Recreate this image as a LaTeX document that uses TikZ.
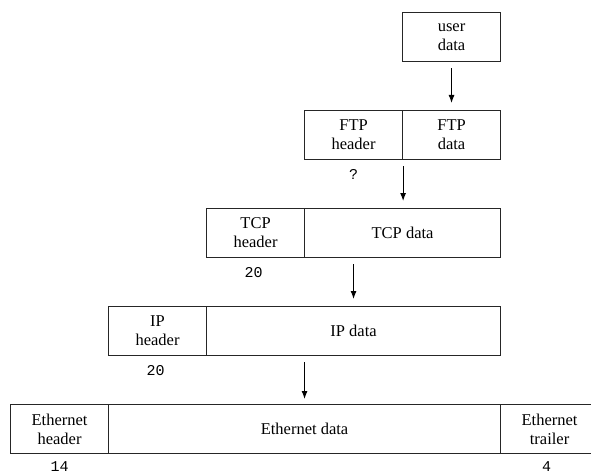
\documentclass[tikz,border=0pt]{standalone}
\usepackage{fontspec}
\setmainfont{Liberation Serif}
\newfontfamily\monofont{Liberation Mono}
\usetikzlibrary{arrows.meta,calc}
\begin{document}
\begin{tikzpicture}[x=1pt,y=-1pt,
  cell/.style={draw=black!85, line width=1.1pt, minimum height=49pt, inner sep=0pt,
    align=center, anchor=north west, font=\fontsize{16.5}{19}\selectfont},
  sizelabel/.style={inner sep=0.5pt, font=\monofont\fontsize{15}{17}\selectfont},
  flow/.style={-{Latex[length=8pt,width=6pt]}, line width=1pt}]
\useasboundingbox (0,0) rectangle (591,473);

% application layer
\node[cell, minimum width=98pt] (user) at (402,12) {user\\data};

% FTP
\node[cell, minimum width=98pt] (ftph) at (304,110) {FTP\\header};
\node[cell, minimum width=98pt] (ftpd) at (402,110) {FTP\\data};

% TCP
\node[cell, minimum width=98pt]  (tcph) at (206,208) {TCP\\header};
\node[cell, minimum width=196pt] (tcpd) at (304,208) {TCP data};

% IP
\node[cell, minimum width=98pt]  (iph) at (108,306) {IP\\header};
\node[cell, minimum width=294pt] (ipd) at (206,306) {IP data};

% Ethernet frame
\node[cell, minimum width=98pt]  (ethh) at (10,404)  {Ethernet\\header};
\node[cell, minimum width=392pt] (ethd) at (108,404) {Ethernet data};
\node[cell, minimum width=98pt]  (etht) at (500,404) {Ethernet\\trailer};

% header / trailer sizes
\node[sizelabel] (qftp) at ($(ftph.south)+(0,14)$) {?};
\node[sizelabel] (ntcp) at ($(tcph.south)+(-2,14)$) {20};
\node[sizelabel] (nip)  at ($(iph.south)+(-2,14)$)  {20};
\node[sizelabel] (neth) at ($(ethh.south)+(0,12)$) {14};
\node[sizelabel] (ntrl) at ($(etht.south)+(-3,12)$) {4};

% encapsulation arrows
\coordinate (c1) at (user.south);
\coordinate (c2) at (ftph.south east);
\coordinate (c3) at ($(tcph.south west)!0.5!(tcpd.south east)$);
\coordinate (c4) at ($(iph.south west)!0.5!(ipd.south east)$);
\draw[flow] ($(c1)+(0,6)$) -- ($(c1 |- ftph.north)+(0,-7)$);
\draw[flow] ($(c2)+(0,6)$) -- ($(c2 |- tcph.north)+(0,-7)$);
\draw[flow] ($(c3)+(0,6)$) -- ($(c3 |- iph.north)+(0,-7)$);
\draw[flow] ($(c4)+(0,6)$) -- ($(c4 |- ethh.north)+(0,-5)$);
\end{tikzpicture}
\end{document}
